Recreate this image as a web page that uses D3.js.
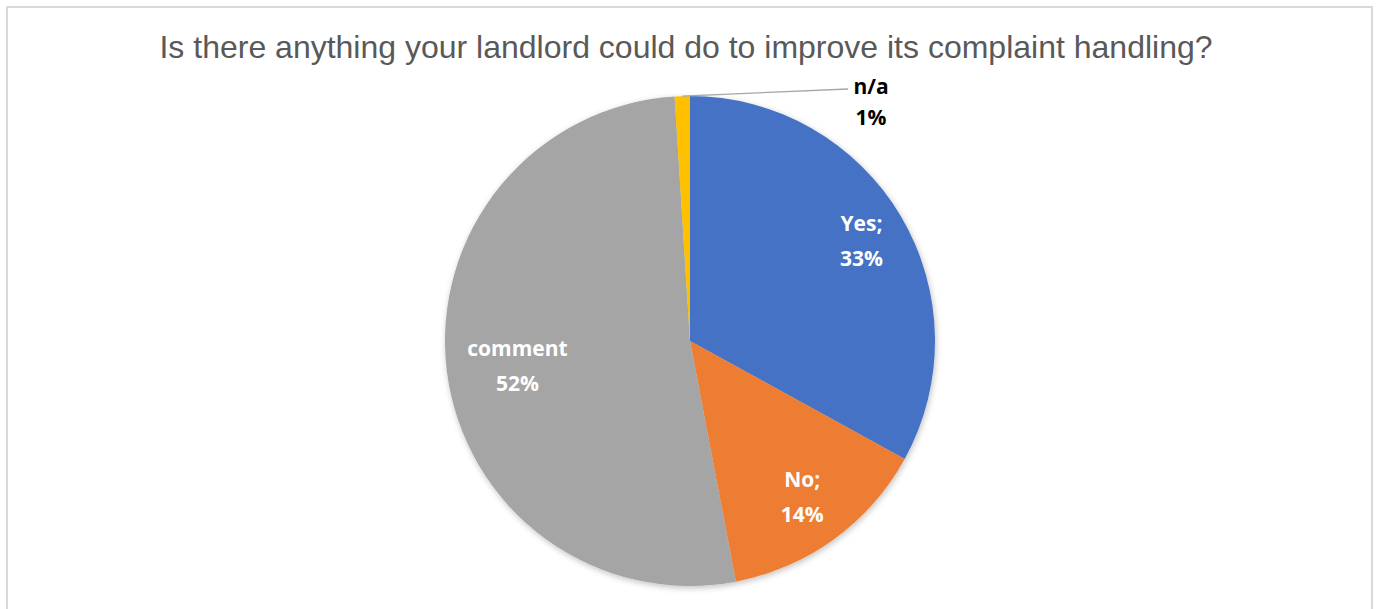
<!DOCTYPE html>
<html>
<head>
<meta charset="utf-8">
<script src="https://cdn.jsdelivr.net/npm/d3@7"></script>
<style>
  html, body { margin: 0; padding: 0; background: #fff; }
  svg { display: block; }
</style>
</head>
<body>
<svg id="chart" width="1378" height="609"></svg>
<script>
// Survey responses
const categories = ["Yes", "No", "comment", "n/a"];
const values = [33, 14, 52, 1];
const labelText = ["Yes;", "No;", "comment", "n/a"];
const percentLabels = ["33%", "14%", "52%", "1%"];
const colors = ["#4472C4", "#ED7D31", "#A5A5A5", "#FFC000"];
const title = "Is there anything your landlord could do to improve its complaint handling?";

const W = 1378, H = 609;
const cx = 690, cy = 341, R = 245;

const svg = d3.select("#chart");

// chart area frame (open at the bottom)
svg.append("path")
  .attr("d", `M7,${H} L7,7 L1372,7 L1372,${H}`)
  .attr("fill", "none")
  .attr("stroke", "#d9d9d9")
  .attr("stroke-width", 2);

svg.append("text")
  .attr("x", 686)
  .attr("y", 58)
  .attr("text-anchor", "middle")
  .attr("font-family", "'Liberation Sans', Arial, sans-serif")
  .attr("font-size", 32)
  .attr("fill", "#595959")
  .text(title);

const defs = svg.append("defs");
const shadow = defs.append("filter").attr("id", "shadow")
  .attr("x", "-10%").attr("y", "-10%").attr("width", "120%").attr("height", "120%");
shadow.append("feGaussianBlur").attr("in", "SourceAlpha").attr("stdDeviation", 3);
shadow.append("feOffset").attr("dx", 1).attr("dy", 2).attr("result", "b");
shadow.append("feComponentTransfer").append("feFuncA").attr("type", "linear").attr("slope", 0.25);
const merge = shadow.append("feMerge");
merge.append("feMergeNode");
merge.append("feMergeNode").attr("in", "SourceGraphic");

const data = categories.map((c, i) => ({ cat: c, value: values[i], i }));

const pie = d3.pie().value(d => d.value).sort(null);
const arcs = pie(data);
const arc = d3.arc().innerRadius(0).outerRadius(R);
const color = d3.scaleOrdinal().domain(categories).range(colors);

const g = svg.append("g").attr("transform", `translate(${cx},${cy})`);

g.append("g").attr("filter", "url(#shadow)")
  .selectAll("path")
  .data(arcs)
  .join("path")
  .attr("d", arc)
  .attr("fill", d => color(d.data.cat))
  .attr("stroke", "none");

// inside labels
const labelArc = d3.arc().innerRadius(R * 0.78).outerRadius(R * 0.78);
const labelShift = { "Yes": [7, -3], "No": [0, 1], "comment": [17, 1] };

const font = "'Open Sans', 'Noto Sans', sans-serif";
const fs = 21;

arcs.filter(d => d.data.cat !== "n/a").forEach(d => {
  const [x, y] = labelArc.centroid(d);
  const s = labelShift[d.data.cat] || [0, 0];
  const t = g.append("text")
    .attr("text-anchor", "middle")
    .attr("font-family", font)
    .attr("font-weight", "bold")
    .attr("font-size", fs)
    .attr("fill", "#ffffff");
  t.append("tspan").attr("x", x + s[0]).attr("y", y + s[1] - 10).text(labelText[d.data.i]);
  t.append("tspan").attr("x", x + s[0]).attr("y", y + s[1] + 25).text(percentLabels[d.data.i]);
});

// outside label with leader line for the small slice
const na = arcs.find(d => d.data.cat === "n/a");
const a = (na.startAngle + na.endAngle) / 2;
const px = Math.sin(a) * R, py = -Math.cos(a) * R;
const lx = 848 - cx, ly = 89 - cy;
g.append("line")
  .attr("x1", px).attr("y1", py)
  .attr("x2", lx).attr("y2", ly)
  .attr("stroke", "#a6a6a6")
  .attr("stroke-width", 1.3);
const nt = g.append("text")
  .attr("text-anchor", "middle")
  .attr("font-family", font)
  .attr("font-weight", "bold")
  .attr("font-size", fs)
  .attr("fill", "#000000");
nt.append("tspan").attr("x", lx + 23).attr("y", ly + 5).text(labelText[na.data.i]);
nt.append("tspan").attr("x", lx + 23).attr("y", ly + 36).text(percentLabels[na.data.i]);
</script>
</body>
</html>
